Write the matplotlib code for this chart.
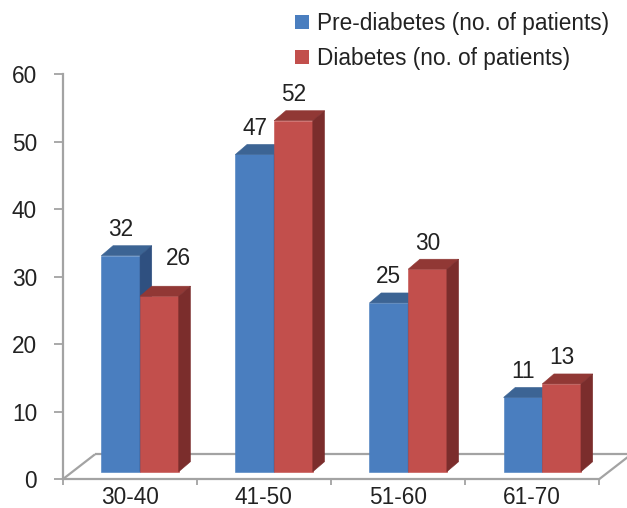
import matplotlib
matplotlib.use("Agg")
import matplotlib.pyplot as plt
from matplotlib.patches import Polygon, Patch
from matplotlib.transforms import ScaledTranslation
from matplotlib.ticker import FixedLocator, NullFormatter

# ---- data ----
categories = ["30-40", "41-50", "51-60", "61-70"]
prediabetes = [32, 47, 25, 11]
diabetes = [26, 52, 30, 13]
series_names = ["Pre-diabetes (no. of patients)", "Diabetes (no. of patients)"]
y_ticks = [0, 10, 20, 30, 40, 50, 60]

# ---- style ----
plt.rcParams["font.family"] = ["Liberation Sans", "DejaVu Sans"]
TEXT = "#222222"
GRID = "#A3A3A3"
BLUE = {"front": "#4A7EBF", "top": "#3C6494", "side": "#2F5080"}
RED = {"front": "#C24F4C", "top": "#913835", "side": "#7B2D2C"}
FS = 16.3

DPI = 100
W, H = 627, 508
fig = plt.figure(figsize=(W / DPI, H / DPI), dpi=DPI)

# plotting box (pixels from the top-left corner of the figure)
box_left, box_right = 62.7, 599.0
box_top, box_bottom = 74.3, 479.3
ax = fig.add_axes([box_left / W, 1 - box_bottom / H,
                   (box_right - box_left) / W, (box_bottom - box_top) / H])
ax.set_xlim(-0.5, len(categories) - 0.5)
ax.set_ylim(y_ticks[0], y_ticks[-1])

px_x = (box_right - box_left) / len(categories)       # pixels per category
px_y = (box_bottom - box_top) / (y_ticks[-1] - y_ticks[0])  # pixels per unit

# pseudo-3D geometry, in pixels
BAR_SHIFT = (10.3, 7.6)     # bars stand a little back from the front edge
BAR_DEPTH = (11.7, 10.0)    # depth of each bar
FLOOR_DEPTH = (32.3, 25.0)  # depth of the floor
bar_w = 38.7 / px_x


def shifted(px, py):
    return ax.transData + ScaledTranslation(px / DPI, py / DPI, fig.dpi_scale_trans)


front_tr = shifted(*BAR_SHIFT)
ddx, ddy = BAR_DEPTH[0] / px_x, BAR_DEPTH[1] / px_y

# floor outline
fdx, fdy = FLOOR_DEPTH[0] / px_x, FLOOR_DEPTH[1] / px_y
x_lo, x_hi = ax.get_xlim()
floor_kw = dict(color=GRID, lw=1.6, clip_on=False, zorder=1, solid_capstyle="butt")
ax.plot([x_lo, x_lo + fdx], [0, fdy], **floor_kw)
ax.plot([x_lo + fdx, x_hi + fdx], [fdy, fdy], **floor_kw)
ax.plot([x_hi, x_hi + fdx], [0, fdy], **floor_kw)


def draw_series(xs, vals, colors, z):
    ax.bar(xs, vals, width=bar_w, color=colors["front"], edgecolor=colors["front"],
           linewidth=0.4, transform=front_tr, zorder=z)
    for x, v in zip(xs, vals):
        x0, x1 = x - bar_w / 2, x + bar_w / 2
        top = Polygon([(x0, v), (x1, v), (x1 + ddx, v + ddy), (x0 + ddx, v + ddy)],
                      closed=True, fc=colors["top"], ec=colors["top"], lw=0.4,
                      transform=front_tr, zorder=z)
        side = Polygon([(x1, 0), (x1 + ddx, ddy), (x1 + ddx, v + ddy), (x1, v)],
                       closed=True, fc=colors["side"], ec=colors["side"], lw=0.4,
                       transform=front_tr, zorder=z)
        ax.add_patch(top)
        ax.add_patch(side)


idx = list(range(len(categories)))
x_pre = [i - bar_w / 2 for i in idx]
x_dia = [i + bar_w / 2 for i in idx]
draw_series(x_pre, prediabetes, BLUE, 3)
draw_series(x_dia, diabetes, RED, 4)

# value labels above each bar
LABEL_LIFT = 26.0           # pixels above the bar's front top edge
NUDGE = (19.5, 12.0)        # extra shift when a label sits beside a taller bar
for i in idx:
    for x, v, other in ((x_pre[i], prediabetes[i], None),
                        (x_dia[i], diabetes[i], prediabetes[i])):
        dx, dy = 0.0, LABEL_LIFT
        if other is not None and v < other:
            dx += NUDGE[0]
            dy += NUDGE[1]
        ax.annotate(str(v), xy=(x, v), xycoords=front_tr,
                    xytext=(dx * 72 / DPI, dy * 72 / DPI), textcoords="offset points",
                    ha="center", va="center", fontsize=FS, color=TEXT, zorder=6,
                    annotation_clip=False)

# axes and ticks
for s in ("top", "right"):
    ax.spines[s].set_visible(False)
for s in ("left", "bottom"):
    ax.spines[s].set_color(GRID)
    ax.spines[s].set_linewidth(1.6)

ax.set_yticks(y_ticks)
ax.set_yticklabels([str(t) for t in y_ticks])
ax.tick_params(axis="y", which="major", direction="out", length=6.5, width=1.3,
               color=GRID, labelsize=FS, labelcolor=TEXT, pad=12)

ax.xaxis.set_major_locator(FixedLocator([i - 0.5 for i in range(len(categories) + 1)]))
ax.xaxis.set_major_formatter(NullFormatter())
ax.xaxis.set_minor_locator(FixedLocator(idx))
ax.set_xticklabels(categories, minor=True)
ax.tick_params(axis="x", which="major", direction="out", length=4.3, width=1.3, color=GRID)
ax.tick_params(axis="x", which="minor", length=0, labelsize=FS, labelcolor=TEXT, pad=5.0)

# legend
handles = [Patch(facecolor=BLUE["front"], edgecolor="none"),
           Patch(facecolor=RED["front"], edgecolor="none")]
fig.legend(handles, series_names, loc="upper left",
           bbox_to_anchor=(295 / W, 1 - 12 / H), frameon=False, fontsize=FS,
           labelcolor=TEXT, handlelength=0.62, handleheight=0.6,
           handletextpad=0.33, labelspacing=0.52, borderpad=0, borderaxespad=0)

fig.savefig("out.png", dpi=DPI)
